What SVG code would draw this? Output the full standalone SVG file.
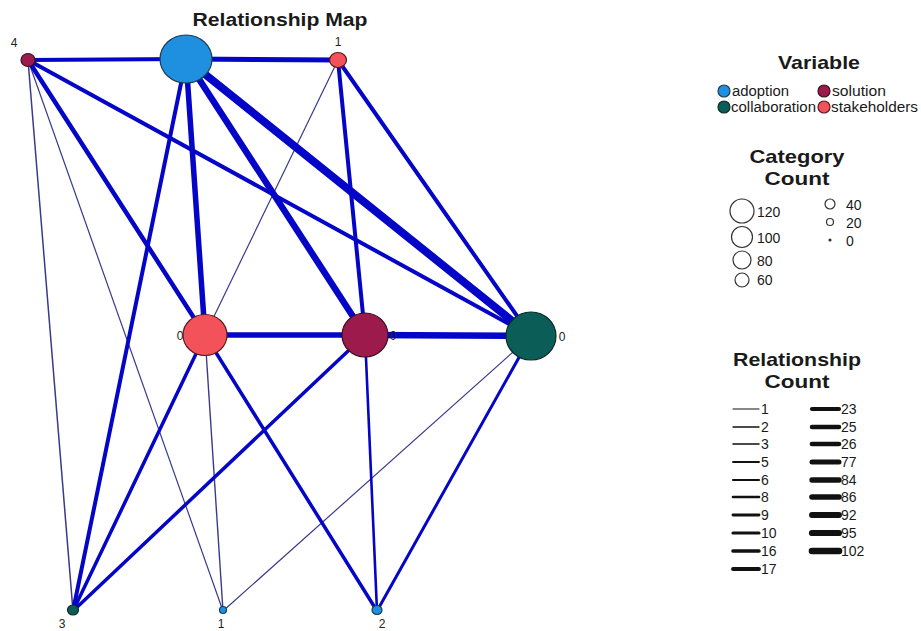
<svg xmlns="http://www.w3.org/2000/svg" width="921" height="631" viewBox="0 0 921 631">
<style>
text{font-family:"Liberation Sans",Arial,sans-serif;fill:#1a1a1a}
.title{font-size:18px;font-weight:bold;text-anchor:middle}
.ltitle{font-size:19px;font-weight:bold;text-anchor:middle}
.lbl{font-size:12px;text-anchor:middle;fill:#222}
.leg{font-size:14px}
.e{stroke:#0505c8;fill:none;stroke-linecap:round}
.t{stroke:#3a3a8c;fill:none}
.adoption{fill:#1f8fe0;stroke:#1c3c55;stroke-width:1.2}
.solution{fill:#9c1b4c;stroke:#3a1020;stroke-width:1.2}
.collab{fill:#0b5d57;stroke:#0f2a28;stroke-width:1.2}
.stake{fill:#f4525a;stroke:#5a1c1c;stroke-width:1.2}
.cc{fill:#fff;stroke:#333;stroke-width:1.2}
.rl{stroke:#111;stroke-linecap:round}
</style>
<rect width="921" height="631" fill="#fff"/>
<text class="title" x="280" y="26" textLength="175" lengthAdjust="spacingAndGlyphs">Relationship Map</text>

<g id="connectors">
  <line class="t" x1="28" y1="60" x2="73" y2="611" stroke-width="1.5"/>
  <line class="t" x1="28" y1="60" x2="223" y2="611" stroke-width="1.2"/>
  <line class="t" x1="338" y1="60" x2="205" y2="335" stroke-width="1.2"/>
  <line class="t" x1="205" y1="335" x2="223" y2="611" stroke-width="1.4"/>
  <line class="t" x1="531" y1="336" x2="223" y2="611" stroke-width="1.2"/>
  <line class="e" x1="365" y1="335" x2="377" y2="611" stroke-width="2.6"/>
  <line class="e" x1="531" y1="336" x2="377" y2="611" stroke-width="3"/>
  <line class="e" x1="205" y1="335" x2="73" y2="611" stroke-width="3.5"/>
  <line class="e" x1="205" y1="335" x2="377" y2="611" stroke-width="3.5"/>
  <line class="e" x1="365" y1="335" x2="73" y2="611" stroke-width="3.5"/>
  <line class="e" x1="186" y1="59" x2="73" y2="611" stroke-width="4"/>
  <line class="e" x1="28" y1="60" x2="205" y2="335" stroke-width="4.5"/>
  <line class="e" x1="28" y1="60" x2="531" y2="336" stroke-width="4"/>
  <line class="e" x1="338" y1="60" x2="365" y2="335" stroke-width="4"/>
  <line class="e" x1="338" y1="60" x2="531" y2="336" stroke-width="4"/>
  <line class="e" x1="28" y1="60" x2="186" y2="59" stroke-width="4"/>
  <line class="e" x1="186" y1="59" x2="338" y2="60" stroke-width="5"/>
  <line class="e" x1="186" y1="59" x2="205" y2="335" stroke-width="5.5"/>
  <line class="e" x1="186" y1="59" x2="365" y2="335" stroke-width="6.5"/>
  <line class="e" x1="186" y1="59" x2="531" y2="336" stroke-width="8"/>
  <line class="e" x1="205" y1="335" x2="365" y2="335" stroke-width="5.5"/>
  <line class="e" x1="365" y1="335" x2="531" y2="336" stroke-width="6.5"/>
</g>

<g id="node-adoption-0"><ellipse class="adoption" cx="186" cy="59" rx="26" ry="24"/></g>
<g id="node-solution-4"><ellipse class="solution" cx="28" cy="60" rx="7" ry="6.5"/><text class="lbl" x="14" y="47">4</text></g>
<g id="node-stakeholders-1"><ellipse class="stake" cx="338" cy="60" rx="8.5" ry="7.5"/><text class="lbl" x="338" y="46">1</text></g>
<g id="node-stakeholders-0"><ellipse class="stake" cx="205" cy="335" rx="22" ry="20.5"/><text class="lbl" x="180" y="340">0</text></g>
<g id="node-solution-0"><ellipse class="solution" cx="365" cy="335" rx="23" ry="22"/><text class="lbl" x="393" y="340">0</text></g>
<g id="node-collaboration-0"><ellipse class="collab" cx="531" cy="336" rx="25" ry="24"/><text class="lbl" x="562" y="341">0</text></g>
<g id="node-collaboration-3"><ellipse class="collab" cx="73" cy="610" rx="5.5" ry="5"/><text class="lbl" x="62" y="628">3</text></g>
<g id="node-adoption-1"><ellipse class="adoption" cx="223" cy="610" rx="3.5" ry="3.5"/><text class="lbl" x="221" y="628">1</text></g>
<g id="node-adoption-2"><ellipse class="adoption" cx="377" cy="610" rx="5" ry="4.5"/><text class="lbl" x="382" y="628">2</text></g>

<g id="legend-variable">
  <text class="ltitle" x="819" y="69" textLength="82" lengthAdjust="spacingAndGlyphs">Variable</text>
  <circle class="adoption" cx="724" cy="91" r="6"/>
  <text class="leg" x="732" y="96" textLength="57" lengthAdjust="spacingAndGlyphs">adoption</text>
  <circle class="solution" cx="824" cy="91" r="6"/>
  <text class="leg" x="832" y="96" textLength="54" lengthAdjust="spacingAndGlyphs">solution</text>
  <circle class="collab" cx="724" cy="107" r="6"/>
  <text class="leg" x="731" y="112" textLength="85" lengthAdjust="spacingAndGlyphs">collaboration</text>
  <circle class="stake" cx="824" cy="107" r="6"/>
  <text class="leg" x="831" y="112" textLength="87" lengthAdjust="spacingAndGlyphs">stakeholders</text>
</g>

<g id="legend-category">
  <text class="ltitle" x="797" y="163" textLength="95" lengthAdjust="spacingAndGlyphs">Category</text>
  <text class="ltitle" x="797" y="185" textLength="65" lengthAdjust="spacingAndGlyphs">Count</text>
  <circle class="cc" cx="742" cy="211" r="12"/><text class="leg" x="757" y="217">120</text>
  <circle class="cc" cx="742" cy="237" r="10.5"/><text class="leg" x="757" y="243">100</text>
  <circle class="cc" cx="742" cy="260" r="9"/><text class="leg" x="757" y="266">80</text>
  <circle class="cc" cx="742" cy="280" r="7"/><text class="leg" x="757" y="285">60</text>
  <circle class="cc" cx="830" cy="204" r="5"/><text class="leg" x="846" y="210">40</text>
  <circle class="cc" cx="830" cy="222" r="3.5"/><text class="leg" x="846" y="228">20</text>
  <circle cx="830" cy="240" r="1.6" fill="#333"/><text class="leg" x="846" y="246">0</text>
</g>

<g id="legend-relationship">
  <text class="ltitle" x="797" y="366" textLength="128" lengthAdjust="spacingAndGlyphs">Relationship</text>
  <text class="ltitle" x="797" y="388" textLength="65" lengthAdjust="spacingAndGlyphs">Count</text>
  <line class="rl" x1="733" y1="409" x2="759" y2="409" stroke-width="1"/><text class="leg" x="761" y="414">1</text>
  <line class="rl" x1="733" y1="427" x2="759" y2="427" stroke-width="1.3"/><text class="leg" x="761" y="432">2</text>
  <line class="rl" x1="733" y1="444" x2="759" y2="444" stroke-width="1.6"/><text class="leg" x="761" y="449">3</text>
  <line class="rl" x1="733" y1="462" x2="759" y2="462" stroke-width="1.9"/><text class="leg" x="761" y="467">5</text>
  <line class="rl" x1="733" y1="480" x2="759" y2="480" stroke-width="2.2"/><text class="leg" x="761" y="485">6</text>
  <line class="rl" x1="733" y1="497" x2="759" y2="497" stroke-width="2.6"/><text class="leg" x="761" y="502">8</text>
  <line class="rl" x1="733" y1="515" x2="759" y2="515" stroke-width="2.9"/><text class="leg" x="761" y="520">9</text>
  <line class="rl" x1="733" y1="533" x2="759" y2="533" stroke-width="3.2"/><text class="leg" x="761" y="538">10</text>
  <line class="rl" x1="733" y1="551" x2="759" y2="551" stroke-width="3.6"/><text class="leg" x="761" y="556">16</text>
  <line class="rl" x1="733" y1="569" x2="759" y2="569" stroke-width="3.9"/><text class="leg" x="761" y="574">17</text>
  <line class="rl" x1="812" y1="409" x2="839" y2="409" stroke-width="4.2"/><text class="leg" x="841" y="414">23</text>
  <line class="rl" x1="812" y1="427" x2="839" y2="427" stroke-width="4.5"/><text class="leg" x="841" y="432">25</text>
  <line class="rl" x1="812" y1="444" x2="839" y2="444" stroke-width="4.7"/><text class="leg" x="841" y="449">26</text>
  <line class="rl" x1="812" y1="462" x2="839" y2="462" stroke-width="5"/><text class="leg" x="841" y="467">77</text>
  <line class="rl" x1="812" y1="480" x2="839" y2="480" stroke-width="5.3"/><text class="leg" x="841" y="485">84</text>
  <line class="rl" x1="812" y1="497" x2="839" y2="497" stroke-width="5.6"/><text class="leg" x="841" y="502">86</text>
  <line class="rl" x1="812" y1="515" x2="839" y2="515" stroke-width="5.9"/><text class="leg" x="841" y="520">92</text>
  <line class="rl" x1="812" y1="533" x2="839" y2="533" stroke-width="6.2"/><text class="leg" x="841" y="538">95</text>
  <line class="rl" x1="812" y1="551" x2="839" y2="551" stroke-width="6.6"/><text class="leg" x="841" y="556">102</text>
</g>
</svg>
